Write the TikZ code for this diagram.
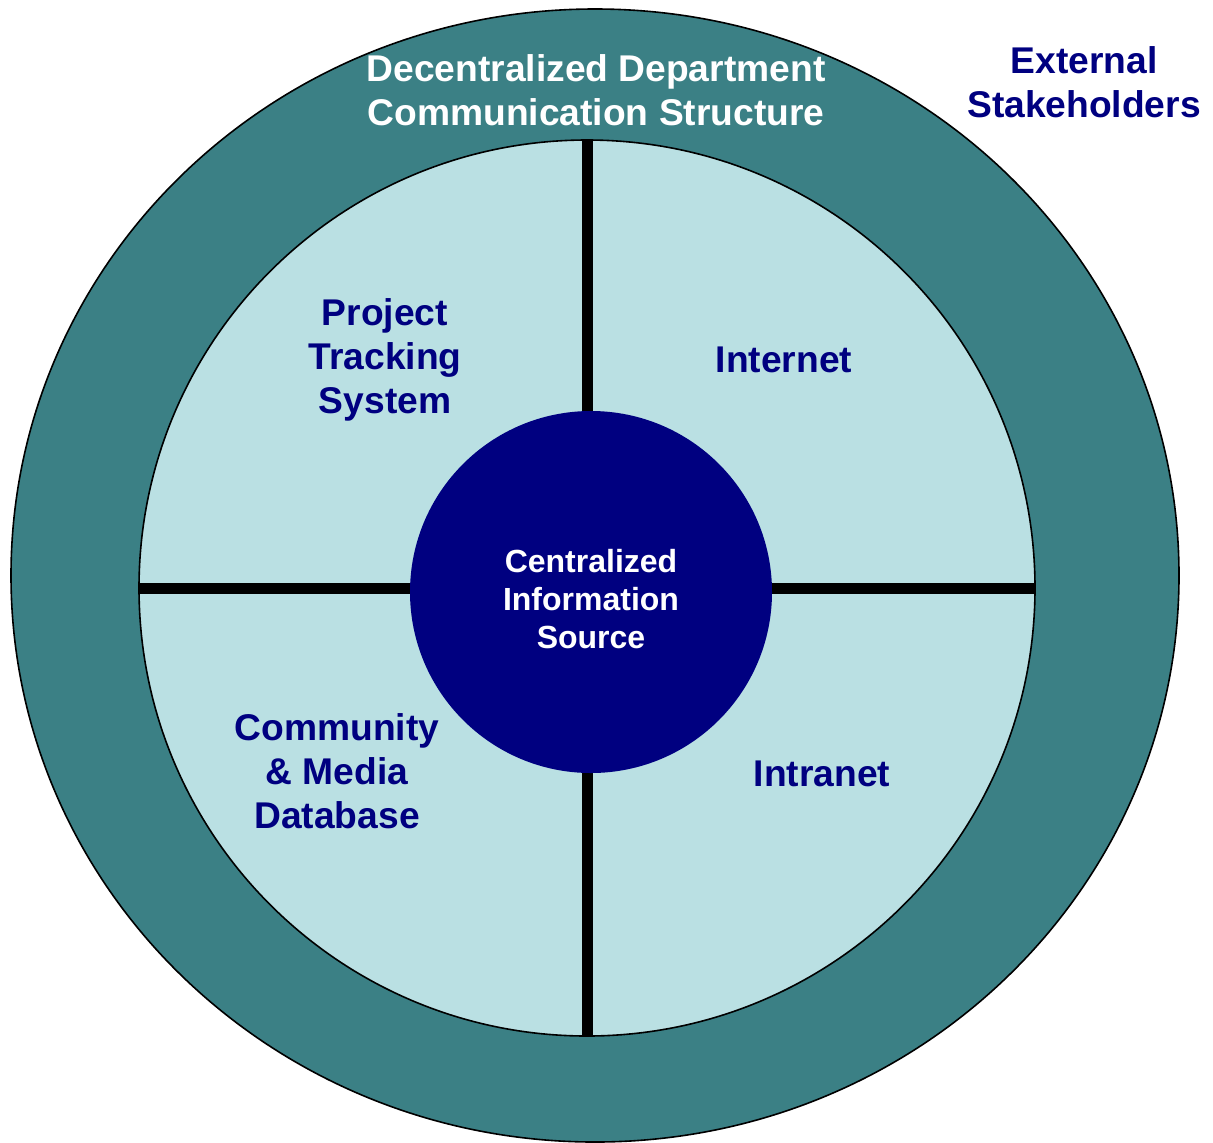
\documentclass[tikz,border=0pt]{standalone}
\usepackage{fontspec}
\setmainfont{Liberation Sans}
\usetikzlibrary{shapes.geometric}
\definecolor{tealRing}{RGB}{59,128,133}
\definecolor{paleBlue}{RGB}{186,224,227}
\definecolor{hubBlue}{RGB}{0,0,128}
\def\bigFont{\fontsize{18.6}{22}\selectfont\bfseries}
\def\hubFont{\fontsize{16}{19}\selectfont\bfseries}
\tikzstyle{sector}=[inner sep=0pt,outer sep=0pt]
\tikzstyle{caption}=[align=center,inner sep=0pt,text=hubBlue,font=\bigFont]
\newcommand{\newLabel}[4]{\node[caption,#3](#1) at #4 {#2};}

\begin{document}
\begin{tikzpicture}[x=0.5pt,y=-0.5pt,
    thick  %thick, semithick
    ]
    \useasboundingbox (0,0) rectangle (1213,1142);
    \node[sector,ellipse,draw,fill=tealRing,minimum width=584pt,minimum height=566.5pt] (outer) at (595,575.5) {};
    \node[sector,circle,draw,fill=paleBlue,minimum size=448pt] (ring) at (587,588) {};
    \draw[line width=5.5pt] (ring.north) -- (ring.south);
    \draw[line width=5.5pt] (ring.west) -- (ring.east);
    \node[sector,circle,fill=hubBlue,minimum size=181pt] (hub) at (591,592) {};
    \newLabel{title}{Decentralized Department\\Communication Structure}{text=white}{(596,90.5)}
    \newLabel{external}{External\\Stakeholders}{}{(1084,82)}
    \newLabel{tracking}{Project\\Tracking\\System}{}{(385,360)}
    \newLabel{internet}{Internet}{anchor=base}{(784,372)}
    \newLabel{community}{Community\\\& Media\\Database}{}{(337,771.5)}
    \newLabel{intranet}{Intranet}{anchor=base}{(822,786)}
    \newLabel{source}{Centralized\\Information\\Source}{text=white,font=\hubFont}{(591,599)}
  \end{tikzpicture}
\end{document}
